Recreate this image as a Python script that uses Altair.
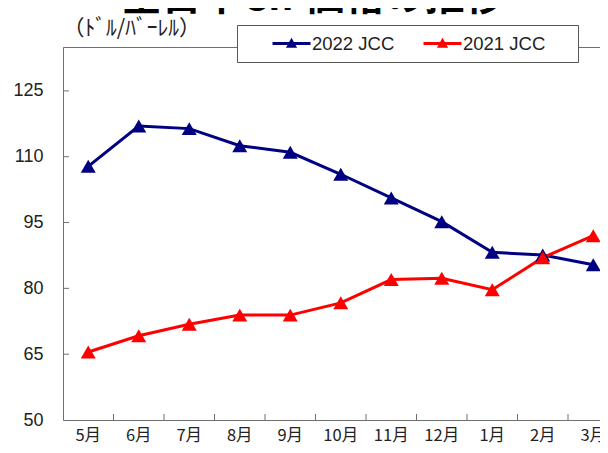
import altair as alt
import pandas as pd

months = ["5月", "6月", "7月", "8月", "9月", "10月", "11月", "12月", "1月", "2月", "3月"]
jcc_2022 = [107.8, 117.0, 116.4, 112.5, 111.0, 106.0, 100.6, 95.2, 88.2, 87.6, 85.4]
jcc_2021 = [65.5, 69.2, 71.8, 73.9, 73.9, 76.7, 82.0, 82.3, 79.7, 87.0, 92.0]
series_names = ["2022 JCC", "2021 JCC"]
series_colors = ["#000080", "#FF0000"]
y_ticks = [50, 65, 80, 95, 110, 125]
title_text = "全日本CIF価格の推移"
unit_text = "（ﾄﾞﾙ/ﾊﾞｰﾚﾙ）"

rows = []
for name, color, vals in zip(series_names, series_colors, [jcc_2022, jcc_2021]):
    for m, v in zip(months, vals):
        rows.append({"month": m, "series": name, "value": v, "color": color})
df = pd.DataFrame(rows)

PAD_L = 55
PAD_T = 39
PLOT_W = 537
PLOT_H = 373
BAND_SPAN = 555.5

x_scale = alt.Scale(type="band", domain=months, paddingInner=0, paddingOuter=0, range=[0, BAND_SPAN])
y_scale = alt.Scale(domain=[50, 135], nice=False, zero=False)

x_axis = alt.Axis(title=None, labelAngle=0, ticks=False, labelPadding=7,
                  labelFont="Noto Sans CJK JP", labelFontSize=16.5, labelColor="#222222",
                  domainColor="#707070", grid=False, labelOverlap=False)
x_top_axis = alt.Axis(title=None, orient="top", labels=False, ticks=False, grid=False,
                      domain=True, domainColor="#707070")
y_axis = alt.Axis(title=None, values=y_ticks, ticks=False, labelPadding=20,
                  labelFont="Liberation Sans", labelFontSize=18, labelColor="#222222",
                  domainColor="#707070", grid=False)

legend_symbol = "M-1,0L1,0M-0.16,0.14L0,-0.14L0.16,0.14Z"

base = alt.Chart(df)

lines = base.mark_line(strokeWidth=3).encode(
    x=alt.X("month:N", sort=months, scale=x_scale, axis=x_axis),
    y=alt.Y("value:Q", scale=y_scale, axis=y_axis),
    color=alt.Color("series:N", sort=series_names,
                    scale=alt.Scale(domain=series_names, range=series_colors),
                    legend=alt.Legend(orient="none", legendX=174, legendY=-22,
                                      direction="horizontal", columns=2,
                                      title=" ", titleOrient="right", titlePadding=25,
                                      titleFontSize=10,
                                      padding=8, fillColor="white", strokeColor="#555555",
                                      symbolType=legend_symbol, symbolSize=1444, clipHeight=21,
                                      symbolStrokeWidth=3, symbolOffset=26, labelOffset=0,
                                      columnPadding=1, labelFont="Liberation Sans",
                                      labelFontSize=18.5, labelColor="#222222")),
    detail="series:N",
)

points = base.mark_point(shape="triangle-up", filled=True, size=225, opacity=1).encode(
    x=alt.X("month:N", sort=months, scale=x_scale, axis=None),
    y=alt.Y("value:Q", scale=y_scale, axis=y_axis),
    color=alt.Color("color:N", scale=None),
)

ytick_df = pd.DataFrame({"v": y_ticks[1:]})
yticks = alt.Chart(ytick_df).mark_rule(color="#707070", strokeWidth=1).encode(
    y=alt.Y("v:Q", scale=y_scale, axis=y_axis),
    x=alt.value(0),
    x2=alt.value(6),
)

xtick_df = pd.DataFrame({"m": months[1:]})
xticks = alt.Chart(xtick_df).mark_rule(color="#707070", strokeWidth=1).encode(
    x=alt.X("m:N", sort=months, scale=x_scale, axis=x_top_axis, bandPosition=0),
    y=alt.value(PLOT_H - 6),
    y2=alt.value(PLOT_H),
)

title = alt.Chart(pd.DataFrame({"t": [title_text]})).mark_text(
    font="Noto Sans CJK JP", fontWeight="bold", fontSize=40, align="center",
    baseline="alphabetic", color="#000000"
).encode(text="t:N", x=alt.value(250), y=alt.value(-37))

unit = alt.Chart(pd.DataFrame({"t": [unit_text]})).mark_text(
    font="Noto Sans CJK JP", fontSize=21.5, align="left", baseline="middle", color="#222222"
).encode(text="t:N", x=alt.value(0), y=alt.value(-18))

chart = alt.layer(yticks, xticks, lines, points, title, unit).resolve_axis(x="independent").properties(
    width=PLOT_W, height=PLOT_H,
    autosize=alt.AutoSizeParams(type="none"),
    padding={"left": PAD_L, "top": PAD_T, "right": 0, "bottom": 25},
).configure_view(stroke="transparent", strokeWidth=0).configure(background="white")

chart.save("out.html", embed_options={"renderer": "svg", "actions": False})
